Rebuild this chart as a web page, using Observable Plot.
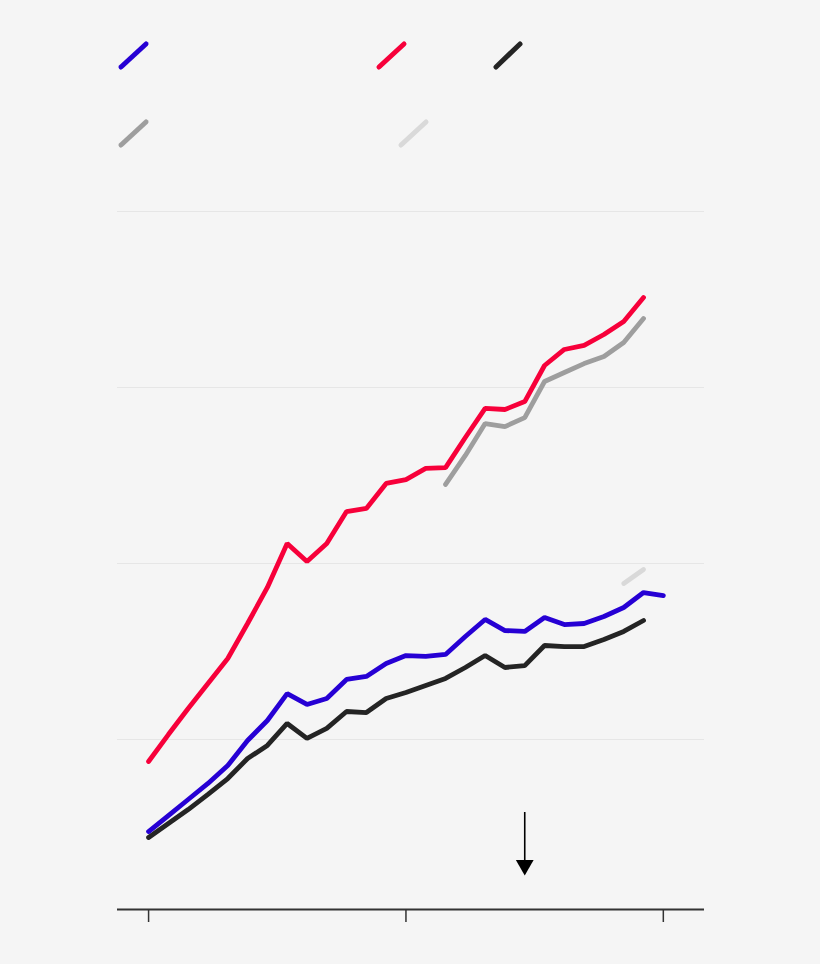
<!DOCTYPE html>
<html>
<head>
<meta charset="utf-8">
<script src="https://cdn.jsdelivr.net/npm/d3@7"></script>
<script src="https://cdn.jsdelivr.net/npm/@observablehq/plot@0.6"></script>
<style>
  html, body { margin: 0; padding: 0; background: #f5f5f5; }
  #wrap { width: 820px; height: 964px; position: relative; background: #f5f5f5; overflow: hidden; }
  #legend { position: relative; width: 820px; height: 180px; }
  #legend svg { position: absolute; left: 0; top: 0; }
</style>
</head>
<body>
<div id="wrap">
  <div id="legend"></div>
  <div id="chart"></div>
</div>
<script>
// x positions (period index)
const periods = [0,1,2,3,4,5,6,7,8,9,10,11,12,13,14,15,16,17,18,19,20,21,22,23,24,25,26];
const xTicks = [0, 13, 26];
const gridValues = [100, 200, 300, 400];

// series values
const redValues = [87.5,102.8,117.6,131.8,146.0,165.9,186.4,211.4,201.1,211.4,229.5,231.3,245.5,247.7,254.0,254.5,271.6,288.1,287.5,292.0,312.5,321.6,323.9,330.1,337.5,351.1];
const greyStart = 15;
const greyValues = [244.9,261.4,279.5,277.8,282.9,303.4,308.5,313.6,317.6,325.6,339.2];
const blueValues = [47.7,56.8,65.9,75.0,85.2,99.4,110.8,126.1,119.9,123.3,134.1,135.8,143.2,147.7,147.2,148.3,158.5,168.2,161.9,161.4,169.3,165.3,165.9,169.9,175.0,183.5,181.8];
const blackValues = [44.3,52.3,60.2,68.8,77.8,89.2,96.6,109.1,100.6,106.3,115.9,115.3,123.3,126.7,130.7,134.7,140.9,147.7,140.9,142.0,153.4,152.8,152.8,156.8,161.4,167.6];
const lightStart = 24;
const lightValues = [188.6,196.6];

// arrow annotation
const arrowX = 19;
const arrowTop = 58.5;
const arrowShaftEnd = 31;
const arrowHead = 28.6;

const colors = {
  blue: "#2600d4",
  red: "#f7003a",
  black: "#242424",
  grey: "#9e9e9e",
  light: "#d9d9d9"
};

function toRows(values, start) {
  return values.map((v, i) => ({x: periods[start + i], y: v}));
}

const redData = toRows(redValues, 0);
const greyData = toRows(greyValues, greyStart);
const blueData = toRows(blueValues, 0);
const blackData = toRows(blackValues, 0);
const lightData = toRows(lightValues, lightStart);

// legend swatches (no text in reference)
const legendItems = [
  {c: colors.blue, x1: 121, y1: 67, x2: 146, y2: 44},
  {c: colors.red, x1: 379, y1: 67, x2: 404, y2: 44},
  {c: colors.black, x1: 496, y1: 67, x2: 520, y2: 44},
  {c: colors.grey, x1: 121, y1: 145, x2: 146, y2: 122},
  {c: colors.light, x1: 401, y1: 145, x2: 426, y2: 122}
];
const lsvg = d3.select("#legend").append("svg").attr("width", 820).attr("height", 180);
lsvg.selectAll("line").data(legendItems).join("line")
  .attr("x1", d => d.x1).attr("y1", d => d.y1)
  .attr("x2", d => d.x2).attr("y2", d => d.y2)
  .attr("stroke", d => d.c).attr("stroke-width", 5).attr("stroke-linecap", "round");

const yMin = 3.4;
const sw = 4.8;

const chart = Plot.plot({
  width: 820,
  height: 784,
  marginTop: 31,
  marginBottom: 55,
  marginLeft: 117,
  marginRight: 116,
  style: {background: "#f5f5f5", overflow: "visible"},
  x: {domain: [-1.57, 28.08], axis: null, label: null},
  y: {domain: [yMin, 400], axis: null, label: null},
  marks: [
    Plot.ruleY(gridValues, {stroke: "#e6e6e6", strokeWidth: 1}),
    Plot.line(redData, {x: "x", y: "y", stroke: colors.red, strokeWidth: sw, strokeLinejoin: "miter", strokeLinecap: "round"}),
    Plot.line(greyData, {x: "x", y: "y", stroke: colors.grey, strokeWidth: sw, strokeLinejoin: "miter", strokeLinecap: "round"}),
    Plot.line(blackData, {x: "x", y: "y", stroke: colors.black, strokeWidth: sw, strokeLinejoin: "miter", strokeLinecap: "round"}),
    Plot.line(blueData, {x: "x", y: "y", stroke: colors.blue, strokeWidth: sw, strokeLinejoin: "miter", strokeLinecap: "round"}),
    Plot.line(lightData, {x: "x", y: "y", stroke: colors.light, strokeWidth: sw, strokeLinecap: "round"}),
    Plot.ruleX([arrowX], {y1: arrowTop, y2: arrowShaftEnd, stroke: "#000", strokeWidth: 1.6}),
    Plot.dot([arrowX], {x: d => d, y: arrowHead, symbol: "triangle", r: 6.6, fill: "#000", stroke: null, rotate: 180}),
    Plot.ruleY([yMin], {stroke: "#333", strokeWidth: 2}),
    Plot.axisX({ticks: xTicks, tickSize: 13, tickFormat: () => "", label: null, stroke: "#333", strokeWidth: 1.5})
  ]
});
document.getElementById("chart").appendChild(chart);
</script>
</body>
</html>
